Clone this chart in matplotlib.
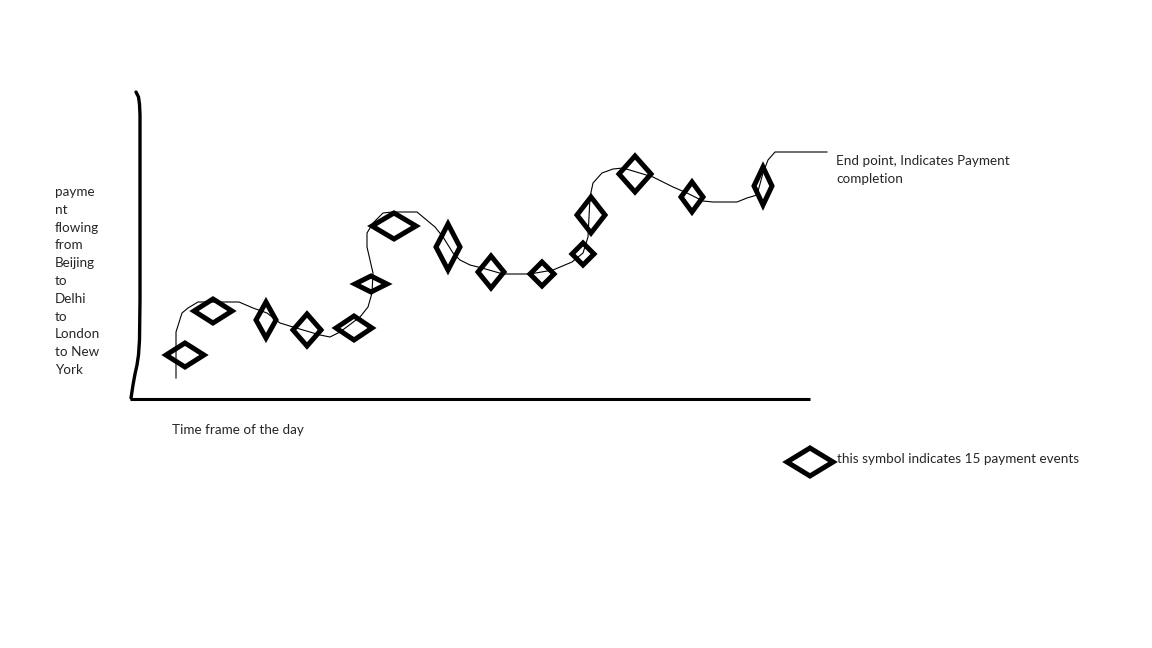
import matplotlib
matplotlib.use("Agg")
import matplotlib.pyplot as plt
from matplotlib.patches import Polygon

# ---- data (sketch coordinates, pixel space of the drawing) ----
line_x = [176, 176, 182, 188, 198, 220, 239, 253, 267, 280, 293, 320, 330, 340, 360,
          368, 372, 373, 370, 367, 367, 373, 383, 392, 417, 423, 435, 443, 453, 460,
          470, 482, 503, 530, 553, 572, 583, 588, 590, 593, 602, 613, 623, 653, 673,
          687, 703, 713, 737, 747, 757, 763, 768, 775, 827]
line_y = [378, 332, 313, 308, 302, 302, 302, 308, 313, 323, 327, 335, 337, 332, 317,
          307, 293, 273, 260, 247, 233, 223, 213, 212, 212, 217, 227, 237, 253, 260,
          265, 268, 274, 274, 270, 262, 253, 237, 197, 183, 173, 169, 168, 177, 187,
          193, 201, 202, 202, 198, 195, 173, 160, 152, 152]

event_x = [185, 213, 266, 307, 354, 371, 394, 448, 491, 542, 583, 591, 635, 692, 763]
event_y = [355, 311, 320, 330, 328, 284, 226, 247, 272, 274, 254, 215, 174, 197, 186]
event_w = [19, 19, 10, 14, 18, 16, 22, 12, 13, 12, 11, 14, 16, 11, 9]
event_h = [12, 12, 18, 16, 12, 8, 13, 23, 16, 12, 11, 18, 18, 15, 19]

yaxis_x = [136, 138.5, 139.5, 140, 140, 139.5, 138.5, 137, 135, 133, 131]
yaxis_y = [92, 97, 104, 115, 300, 340, 355, 365, 374, 385, 398]
xaxis_x = [130, 810]
xaxis_y = [399, 399]

ylabel_lines = ["payme", "nt", "flowing", "from", "Beijing", "to", "Delhi", "to",
                "London", "to New", "York"]
xlabel_text = "Time frame of the day"
end_text = ["End point, Indicates Payment", "completion"]
legend_text = "this symbol indicates 15 payment events"
legend_pos = (810, 462, 23, 14)

# ---- drawing ----
plt.rcParams['font.family'] = ['Lato', 'DejaVu Sans']
fig = plt.figure(figsize=(11.52, 6.48), dpi=100)
ax = fig.add_axes([0, 0, 1, 1])
ax.set_xlim(0, 1152)
ax.set_ylim(648, 0)
ax.axis('off')

ax.plot(yaxis_x, yaxis_y, color='black', lw=2.4, solid_capstyle='round',
        solid_joinstyle='round')
ax.plot(xaxis_x, xaxis_y, color='black', lw=2.2, solid_capstyle='butt')
ax.plot(line_x, line_y, color='black', lw=0.8)

def diamond(cx, cy, hw, hh):
    pts = [(cx - hw, cy), (cx, cy - hh), (cx + hw, cy), (cx, cy + hh)]
    ax.add_patch(Polygon(pts, closed=True, fill=False, edgecolor='black',
                         lw=3.6, joinstyle='miter'))

for cx, cy, hw, hh in zip(event_x, event_y, event_w, event_h):
    diamond(cx, cy, hw, hh)
diamond(*legend_pos)

fs = 9.7
tc = '#262626'
for i, t in enumerate(ylabel_lines):
    ax.text(55, 192 + i * 17.8, t, fontsize=fs, color=tc, va='center', ha='left')
ax.text(172, 430, xlabel_text, fontsize=fs, color=tc, va='center', ha='left')
ax.text(836, 161, end_text[0], fontsize=fs, color=tc, va='center', ha='left')
ax.text(836, 179, end_text[1], fontsize=fs, color=tc, va='center', ha='left')
ax.text(837, 459, legend_text, fontsize=fs, color=tc, va='center', ha='left')

fig.savefig('out.png', dpi=100, facecolor='white')
